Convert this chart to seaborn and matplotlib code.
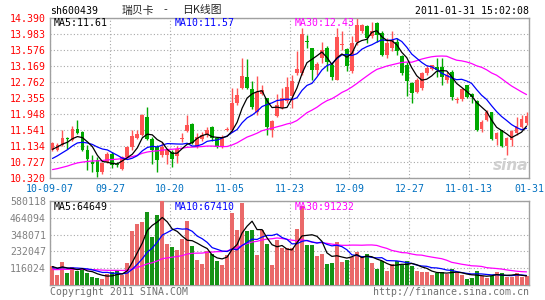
import numpy as np
import pandas as pd
import matplotlib
matplotlib.use("Agg")
import matplotlib.pyplot as plt
import seaborn as sns

# ---------------- data ----------------
tick_labels = ['10-09-07', '09-27', '10-20', '11-05', '11-23', '12-09', '12-27', '11-01-13', '01-31']

opens = [11.03, 11.03, 11.14, 11.34, 11.27, 11.57, 11.48, 11.01, 10.71, 10.76,
         10.46, 10.71, 10.93, 10.67, 10.54, 10.84, 11.10, 11.34, 11.40, 11.87,
         11.31, 11.10, 10.89, 10.89, 10.97, 10.88, 11.30, 11.51, 11.69, 11.11,
         11.30, 11.40, 11.62, 11.32, 11.11, 11.53, 11.53, 12.21, 12.60, 12.89,
         12.58, 11.98, 12.45, 12.36, 11.53, 11.89, 12.10, 12.26, 12.39, 12.99,
         12.99, 13.81, 13.62, 13.07, 13.37, 13.62, 13.20, 12.82, 13.71, 13.61,
         13.03, 13.79, 14.07, 14.18, 13.92, 14.26, 14.01, 13.45, 13.62, 13.79,
         13.41, 13.20, 12.72, 12.51, 12.60, 12.98, 13.08, 13.15, 13.15, 12.81,
         13.02, 12.30, 12.32, 12.68, 12.45, 12.26, 11.57, 11.79, 12.00, 11.29,
         11.53, 11.12, 11.28, 11.45, 11.60, 11.72]
highs = [11.23, 11.20, 11.53, 11.36, 11.63, 11.79, 11.50, 11.14, 10.89, 10.84,
         10.71, 10.97, 10.97, 10.71, 10.87, 11.12, 11.53, 11.53, 11.94, 12.11,
         11.36, 11.14, 11.23, 11.06, 11.01, 11.12, 11.45, 11.91, 11.71, 11.45,
         11.49, 11.62, 11.64, 11.36, 11.40, 11.62, 12.60, 12.60, 13.38, 13.34,
         12.77, 12.91, 12.68, 12.36, 11.79, 12.45, 12.60, 12.89, 12.94, 13.54,
         14.13, 13.96, 13.62, 13.28, 13.78, 13.67, 13.24, 14.13, 14.05, 13.62,
         13.92, 14.39, 14.24, 14.22, 14.30, 14.29, 14.05, 13.88, 14.05, 13.88,
         13.45, 13.28, 12.75, 12.85, 13.02, 13.19, 13.19, 13.36, 13.36, 13.02,
         13.06, 12.38, 12.61, 12.68, 12.47, 12.30, 11.79, 12.04, 12.00, 11.49,
         11.53, 11.36, 11.53, 11.87, 11.92, 12.00]
lows = [10.99, 11.00, 11.12, 11.06, 11.25, 11.44, 11.00, 10.50, 10.46, 10.33,
        10.42, 10.69, 10.55, 10.58, 10.50, 10.82, 11.02, 11.30, 11.38, 11.28,
        10.67, 10.46, 10.84, 10.67, 10.60, 10.70, 11.22, 11.49, 11.17, 11.07,
        11.24, 11.36, 11.24, 11.08, 11.07, 11.51, 11.49, 12.17, 12.57, 12.59,
        12.08, 11.91, 12.42, 11.40, 11.36, 11.87, 12.08, 12.21, 12.09, 12.94,
        12.94, 13.62, 12.82, 12.94, 13.24, 13.03, 12.82, 12.82, 13.58, 13.03,
        12.99, 13.71, 14.01, 13.75, 13.88, 13.79, 13.41, 13.37, 13.54, 13.45,
        12.94, 12.39, 12.21, 12.47, 12.55, 12.94, 13.06, 12.89, 12.68, 12.72,
        12.30, 12.21, 12.28, 12.34, 12.21, 11.51, 11.49, 11.75, 11.28, 11.15,
        11.10, 10.89, 11.12, 11.40, 11.58, 11.66]
closes = [11.19, 11.16, 11.34, 11.29, 11.57, 11.46, 11.03, 10.80, 10.67, 10.46,
          10.69, 10.93, 10.63, 10.63, 10.84, 11.10, 11.37, 11.44, 11.91, 11.31,
          11.01, 10.76, 11.10, 11.01, 10.80, 11.04, 11.34, 11.66, 11.19, 11.36,
          11.40, 11.53, 11.32, 11.11, 11.32, 11.57, 12.21, 12.43, 12.91, 12.61,
          12.11, 12.49, 12.55, 11.62, 11.75, 12.17, 12.36, 12.64, 12.77, 13.09,
          13.98, 13.77, 13.07, 13.22, 13.57, 13.28, 12.88, 13.90, 13.73, 13.16,
          13.75, 14.22, 14.22, 13.88, 14.05, 13.96, 13.45, 13.75, 13.84, 13.54,
          12.99, 12.77, 12.47, 12.81, 12.98, 13.11, 13.19, 13.07, 12.89, 12.94,
          12.38, 12.32, 12.57, 12.38, 12.37, 11.53, 11.74, 12.00, 11.29, 11.45,
          11.12, 11.32, 11.51, 11.63, 11.80, 11.89]
volumes_k = [135, 73, 160, 85, 123, 96, 107, 82, 59, 50,
             46, 78, 91, 107, 69, 153, 370, 420, 434, 502,
             329, 484, 576, 283, 260, 244, 320, 438, 267, 176,
             146, 233, 215, 169, 142, 210, 498, 379, 565, 375,
             381, 210, 379, 283, 139, 310, 254, 254, 256, 388,
             541, 274, 274, 203, 215, 146, 153, 297, 160, 176,
             192, 228, 192, 215, 153, 112, 170, 100, 146, 165,
             140, 165, 135, 100, 91, 91, 73, 85, 91, 78,
             110, 85, 69, 46, 50, 100, 65, 50, 62, 90,
             85, 55, 58, 85, 60, 65]
# closes / volumes of the 29 sessions before the window (needed for the moving averages)
prior_closes = [10.42, 10.36, 10.30, 10.28, 10.35, 10.40, 10.33, 10.29, 10.38, 10.45,
                10.41, 10.37, 10.32, 10.39, 10.46, 10.50, 10.44, 10.38, 10.35, 10.42,
                10.48, 10.55, 10.52, 10.60, 10.71, 10.86, 10.98, 11.05, 11.12]
prior_volumes_k = [95, 110, 88, 102, 120, 98, 105, 92, 87, 110,
                   115, 99, 104, 96, 108, 112, 94, 101, 97, 106,
                   118, 109, 125, 101, 112, 130, 115, 124, 140]
legend_price = ['MA5:11.61', 'MA10:11.57', 'MA30:12.43']
legend_vol = ['MA5:64649', 'MA10:67410', 'MA30:91232']

# ---------------- derived ----------------
n = len(closes)
idx = np.arange(n)
o = np.array(opens); h = np.array(highs); l = np.array(lows); c = np.array(closes)
vol = np.array(volumes_k) * 1000.0
npre = len(prior_closes)
call = pd.Series(prior_closes + closes)
vall = pd.Series([v * 1000.0 for v in prior_volumes_k] + list(vol))
ma = {k: call.rolling(k).mean().iloc[npre:].values for k in (5, 10, 30)}
vma = {k: vall.rolling(k).mean().iloc[npre:].values for k in (5, 10, 30)}

RED = '#FF5454'
GREEN = '#00A800'
up = c >= o
cols = np.where(up, RED, GREEN)
df = pd.DataFrame({'idx': idx, 'vol': vol, 'dir': np.where(up, 'up', 'down')})

sns.set_style('white')
plt.rcParams['font.family'] = ['DejaVu Sans Mono', 'Noto Sans CJK SC']

W, H = 545, 300
fig = plt.figure(figsize=(W / 100, H / 100), dpi=100)


def rect(left, top, right, bottom):
    return [left / W, 1 - bottom / H, (right - left) / W, (bottom - top) / H]


ax = fig.add_axes(rect(50, 18, 529, 177.5))
axv = fig.add_axes(rect(50, 200.7, 529, 285.3))

xt = [-0.5 + 12 * k for k in range(9)]
GRID = '#A8A8A8'
FS = 7.1

# candles
ax.vlines(idx, l, h, colors=cols, linewidth=1.0, zorder=2)
ax.bar(idx, np.maximum(np.abs(c - o), 0.012), bottom=np.minimum(o, c), width=0.76,
       color=cols, linewidth=0, zorder=3)
sns.lineplot(x=idx, y=ma[30], color='#FF00FF', linewidth=0.9, ax=ax, zorder=4)
sns.lineplot(x=idx, y=ma[10], color='#0000FF', linewidth=0.9, ax=ax, zorder=4)
sns.lineplot(x=idx, y=ma[5], color='black', linewidth=0.9, ax=ax, zorder=5)

pticks = [10.320 + 0.407 * k for k in range(11)]
ax.set_ylim(10.320, 14.390)
ax.set_xlim(-0.5, n - 0.5)
ax.set_yticks(pticks)
ax.set_yticklabels([f'{v:.3f}' for v in pticks], color='#FF0000', fontsize=FS)
ax.set_xticks(xt)
ax.set_xticklabels(tick_labels, color='#0070C0', fontsize=FS)
ax.tick_params(axis='both', length=0)
ax.tick_params(axis='y', pad=3)
ax.tick_params(axis='x', pad=5)
ax.set_xlabel(''); ax.set_ylabel('')

# volume
sns.barplot(data=df, x='idx', y='vol', hue='dir', palette={'up': RED, 'down': GREEN},
            dodge=False, width=0.8, legend=False, errorbar=None, native_scale=True,
            linewidth=0, ax=axv, zorder=3)
sns.lineplot(x=idx, y=vma[30], color='#FF00FF', linewidth=0.9, ax=axv, zorder=4)
sns.lineplot(x=idx, y=vma[10], color='#0000FF', linewidth=0.9, ax=axv, zorder=4)
sns.lineplot(x=idx, y=vma[5], color='black', linewidth=0.9, ax=axv, zorder=5)
vmax = 580118
vticks = [vmax * k / 5 for k in range(6)]
axv.set_ylim(0, vmax)
axv.set_xlim(-0.5, n - 0.5)
axv.set_yticks(vticks[1:])
axv.set_yticklabels([f'{round(v):d}' for v in vticks[1:]], color='#808080', fontsize=FS)
axv.set_xticks(xt)
axv.set_xticklabels([])
axv.tick_params(axis='both', length=0)
axv.tick_params(axis='y', pad=3)
axv.set_xlabel(''); axv.set_ylabel('')

for a in (ax, axv):
    a.grid(True, color=GRID, linestyle=(0, (1, 2)), linewidth=0.8, zorder=0)
    a.set_axisbelow(True)
    for s in a.spines.values():
        s.set_color('#A0A0A0')
        s.set_linewidth(1.0)
        s.set_visible(True)


def ftext(x, y, s, **kw):
    kw.setdefault('fontsize', FS)
    kw.setdefault('va', 'center')
    fig.text(x / W, 1 - y / H, s, **kw)


ftext(50, 11, 'sh600439', ha='left', color='black')
ftext(122, 10.5, '瑞贝卡', ha='left', family=['Noto Sans CJK SC'], fontsize=7.8)
ftext(165, 10.5, '-', ha='center', family=['Noto Sans CJK SC'], fontsize=7.8)
ftext(182, 10.5, '日K线图', ha='left', family=['Noto Sans CJK SC'], fontsize=7.8)
ftext(529, 11.5, '2011-01-31 15:02:08', ha='right', color='black')

ftext(54, 23.5, legend_price[0], ha='left', color='black')
ftext(175, 23.5, legend_price[1], ha='left', color='#0000FF')
ftext(295, 23.5, legend_price[2], ha='left', color='#FF00FF')
ftext(54, 206.5, legend_vol[0], ha='left', color='black')
ftext(175, 206.5, legend_vol[1], ha='left', color='#0000FF')
ftext(295, 206.5, legend_vol[2], ha='left', color='#FF00FF')

ftext(50, 292, 'Copyright 2011 SINA.COM', ha='left', color='#707070')
ftext(529, 292, 'http://finance.sina.com.cn', ha='right', color='#707070')
ftext(511, 165, 'sina', ha='center', color='#CFCFCF', fontsize=11,
      family=['DejaVu Sans'], style='italic', fontweight='bold')

fig.savefig('out.png', dpi=100)
